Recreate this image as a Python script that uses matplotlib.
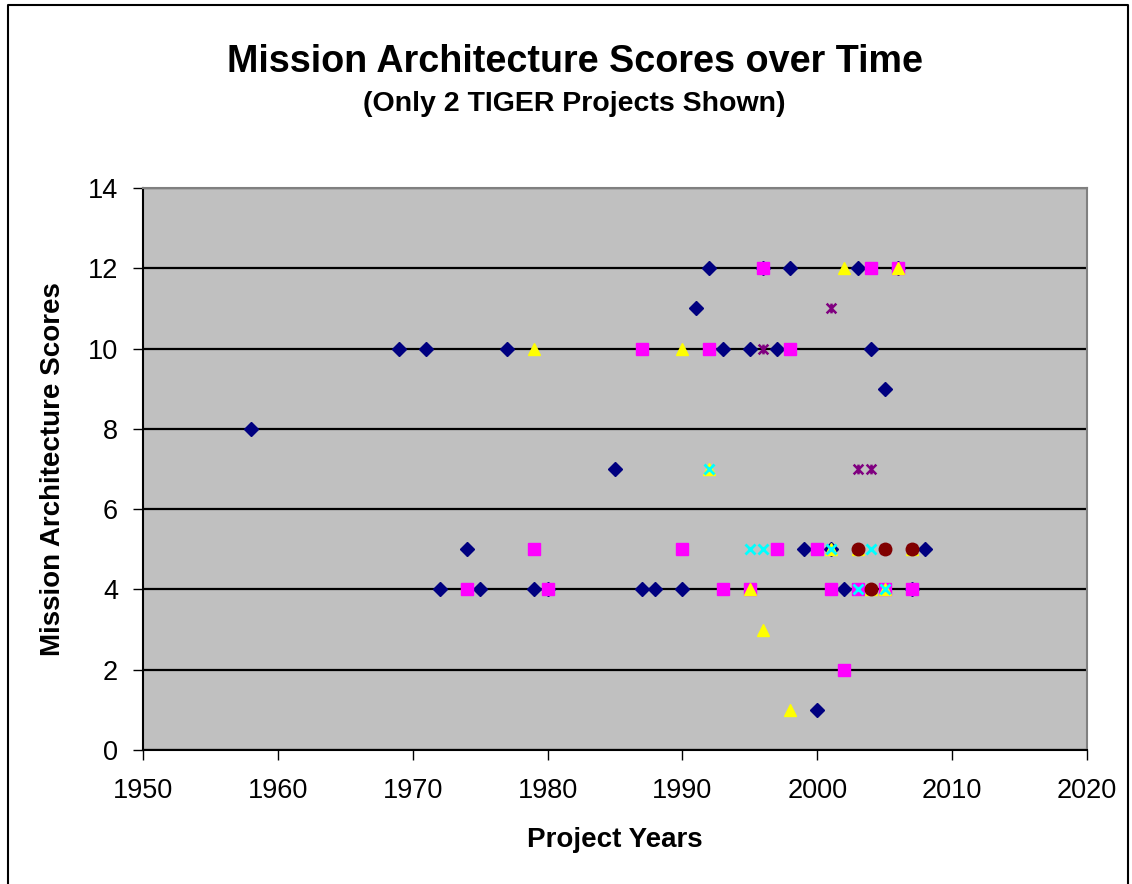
import matplotlib
matplotlib.use("Agg")
import matplotlib.pyplot as plt
from matplotlib.lines import Line2D
from matplotlib.path import Path

plt.rcParams['font.family'] = ['Liberation Sans', 'DejaVu Sans']

# Series 1 - navy diamonds
s1_years = [1958, 1969, 1971, 1977, 1972, 1974, 1975, 1979, 1980, 1985, 1987, 1988, 1990,
            1991, 1992, 1993, 1995, 1996, 1997, 1998, 1999, 2000, 2001, 2002, 2003, 2004,
            2005, 2006, 2007, 2008]
s1_scores = [8, 10, 10, 10, 4, 5, 4, 4, 4, 7, 4, 4, 4,
             11, 12, 10, 10, 12, 10, 12, 5, 1, 5, 4, 12, 10,
             9, 12, 4, 5]

# Series 2 - magenta squares
s2_years = [1974, 1979, 1980, 1987, 1990, 1992, 1993, 1995, 1996, 1997, 1998, 2000, 2001,
            2002, 2003, 2004, 2005, 2006, 2007]
s2_scores = [4, 5, 4, 10, 5, 10, 4, 4, 12, 5, 10, 5, 4,
             2, 4, 12, 4, 12, 4]

# Series 3 - yellow triangles
s3_years = [1979, 1990, 1992, 1995, 1996, 1998, 2001, 2002, 2003, 2004, 2005, 2006, 2007]
s3_scores = [10, 10, 7, 4, 3, 1, 5, 12, 5, 4, 4, 12, 5]

# Series 4 - cyan crosses
s4_years = [1992, 1995, 1996, 2001, 2003, 2004, 2005]
s4_scores = [7, 5, 5, 5, 4, 5, 4]

# Series 5 - purple stars
s5_years = [1996, 2001, 2003, 2004, 2005, 2007]
s5_scores = [10, 11, 7, 7, 5, 5]

# Series 6 - dark red circles
s6_years = [2003, 2004, 2005, 2007]
s6_scores = [5, 4, 5, 5]

# excel style star: an x with a vertical bar through it
star = Path([(-1, -1), (1, 1), (-1, 1), (1, -1), (0, -1), (0, 1)],
            [Path.MOVETO, Path.LINETO] * 3)

W, H = 1132, 884
fig = plt.figure(figsize=(W / 100, H / 100), dpi=100)
fig.patch.set_facecolor('white')

# outer chart border
fig.add_artist(Line2D([8 / W, 8 / W, 1128 / W, 1128 / W], [-0.1, 1 - 5 / H, 1 - 5 / H, -0.1],
                      color='black', lw=1.5, transform=fig.transFigure))

ax = fig.add_axes([143 / W, 1 - 750 / H, (1087 - 143) / W, (750 - 188) / H])
ax.set_facecolor('#C0C0C0')
ax.set_xlim(1950, 2020)
ax.set_ylim(0, 14)
ax.set_xticks(range(1950, 2021, 10))
ax.set_yticks(range(0, 15, 2))
ax.yaxis.grid(True, color='black', lw=1.6)
ax.set_axisbelow(True)

for side in ['top', 'right']:
    ax.spines[side].set_color('#808080')
    ax.spines[side].set_linewidth(1.5)
for side in ['left', 'bottom']:
    ax.spines[side].set_color('black')
    ax.spines[side].set_linewidth(1.5)

ax.tick_params(direction='out', length=7, width=1, labelsize=19.5)
ax.tick_params(axis='x', pad=13)
ax.tick_params(axis='y', pad=11)

ax.plot(s1_years, s1_scores, ls='none', marker='D', ms=7.5, color='#000080', clip_on=False)
ax.plot(s2_years, s2_scores, ls='none', marker='s', ms=8, color='#FF00FF', clip_on=False)
ax.plot(s3_years, s3_scores, ls='none', marker='^', ms=9, color='#FFFF00', clip_on=False)
ax.plot(s4_years, s4_scores, ls='none', marker='x', ms=7, mew=2, color='#00FFFF', clip_on=False)
ax.plot(s5_years, s5_scores, ls='none', marker=star, ms=7, mew=1.8, color='#800080',
        clip_on=False)
ax.plot(s6_years, s6_scores, ls='none', marker='o', ms=9, color='#800000', clip_on=False)

ax.set_xlabel('Project Years', fontsize=20, fontweight='bold', va='center')
ax.set_ylabel('Mission Architecture Scores', fontsize=20, fontweight='bold', va='center')
ax.xaxis.set_label_coords(0.5, (750 - 840) / 562)
ax.yaxis.set_label_coords((53 - 143) / 944, 0.5)

fig.text(574.5 / W, 1 - 72 / H, 'Mission Architecture Scores over Time', ha='center',
         va='baseline', fontsize=27.2, fontweight='bold')
fig.text(574.5 / W, 1 - 111 / H, '(Only 2 TIGER Projects Shown)', ha='center',
         va='baseline', fontsize=20.5, fontweight='bold')

fig.savefig('out.png', dpi=100)
